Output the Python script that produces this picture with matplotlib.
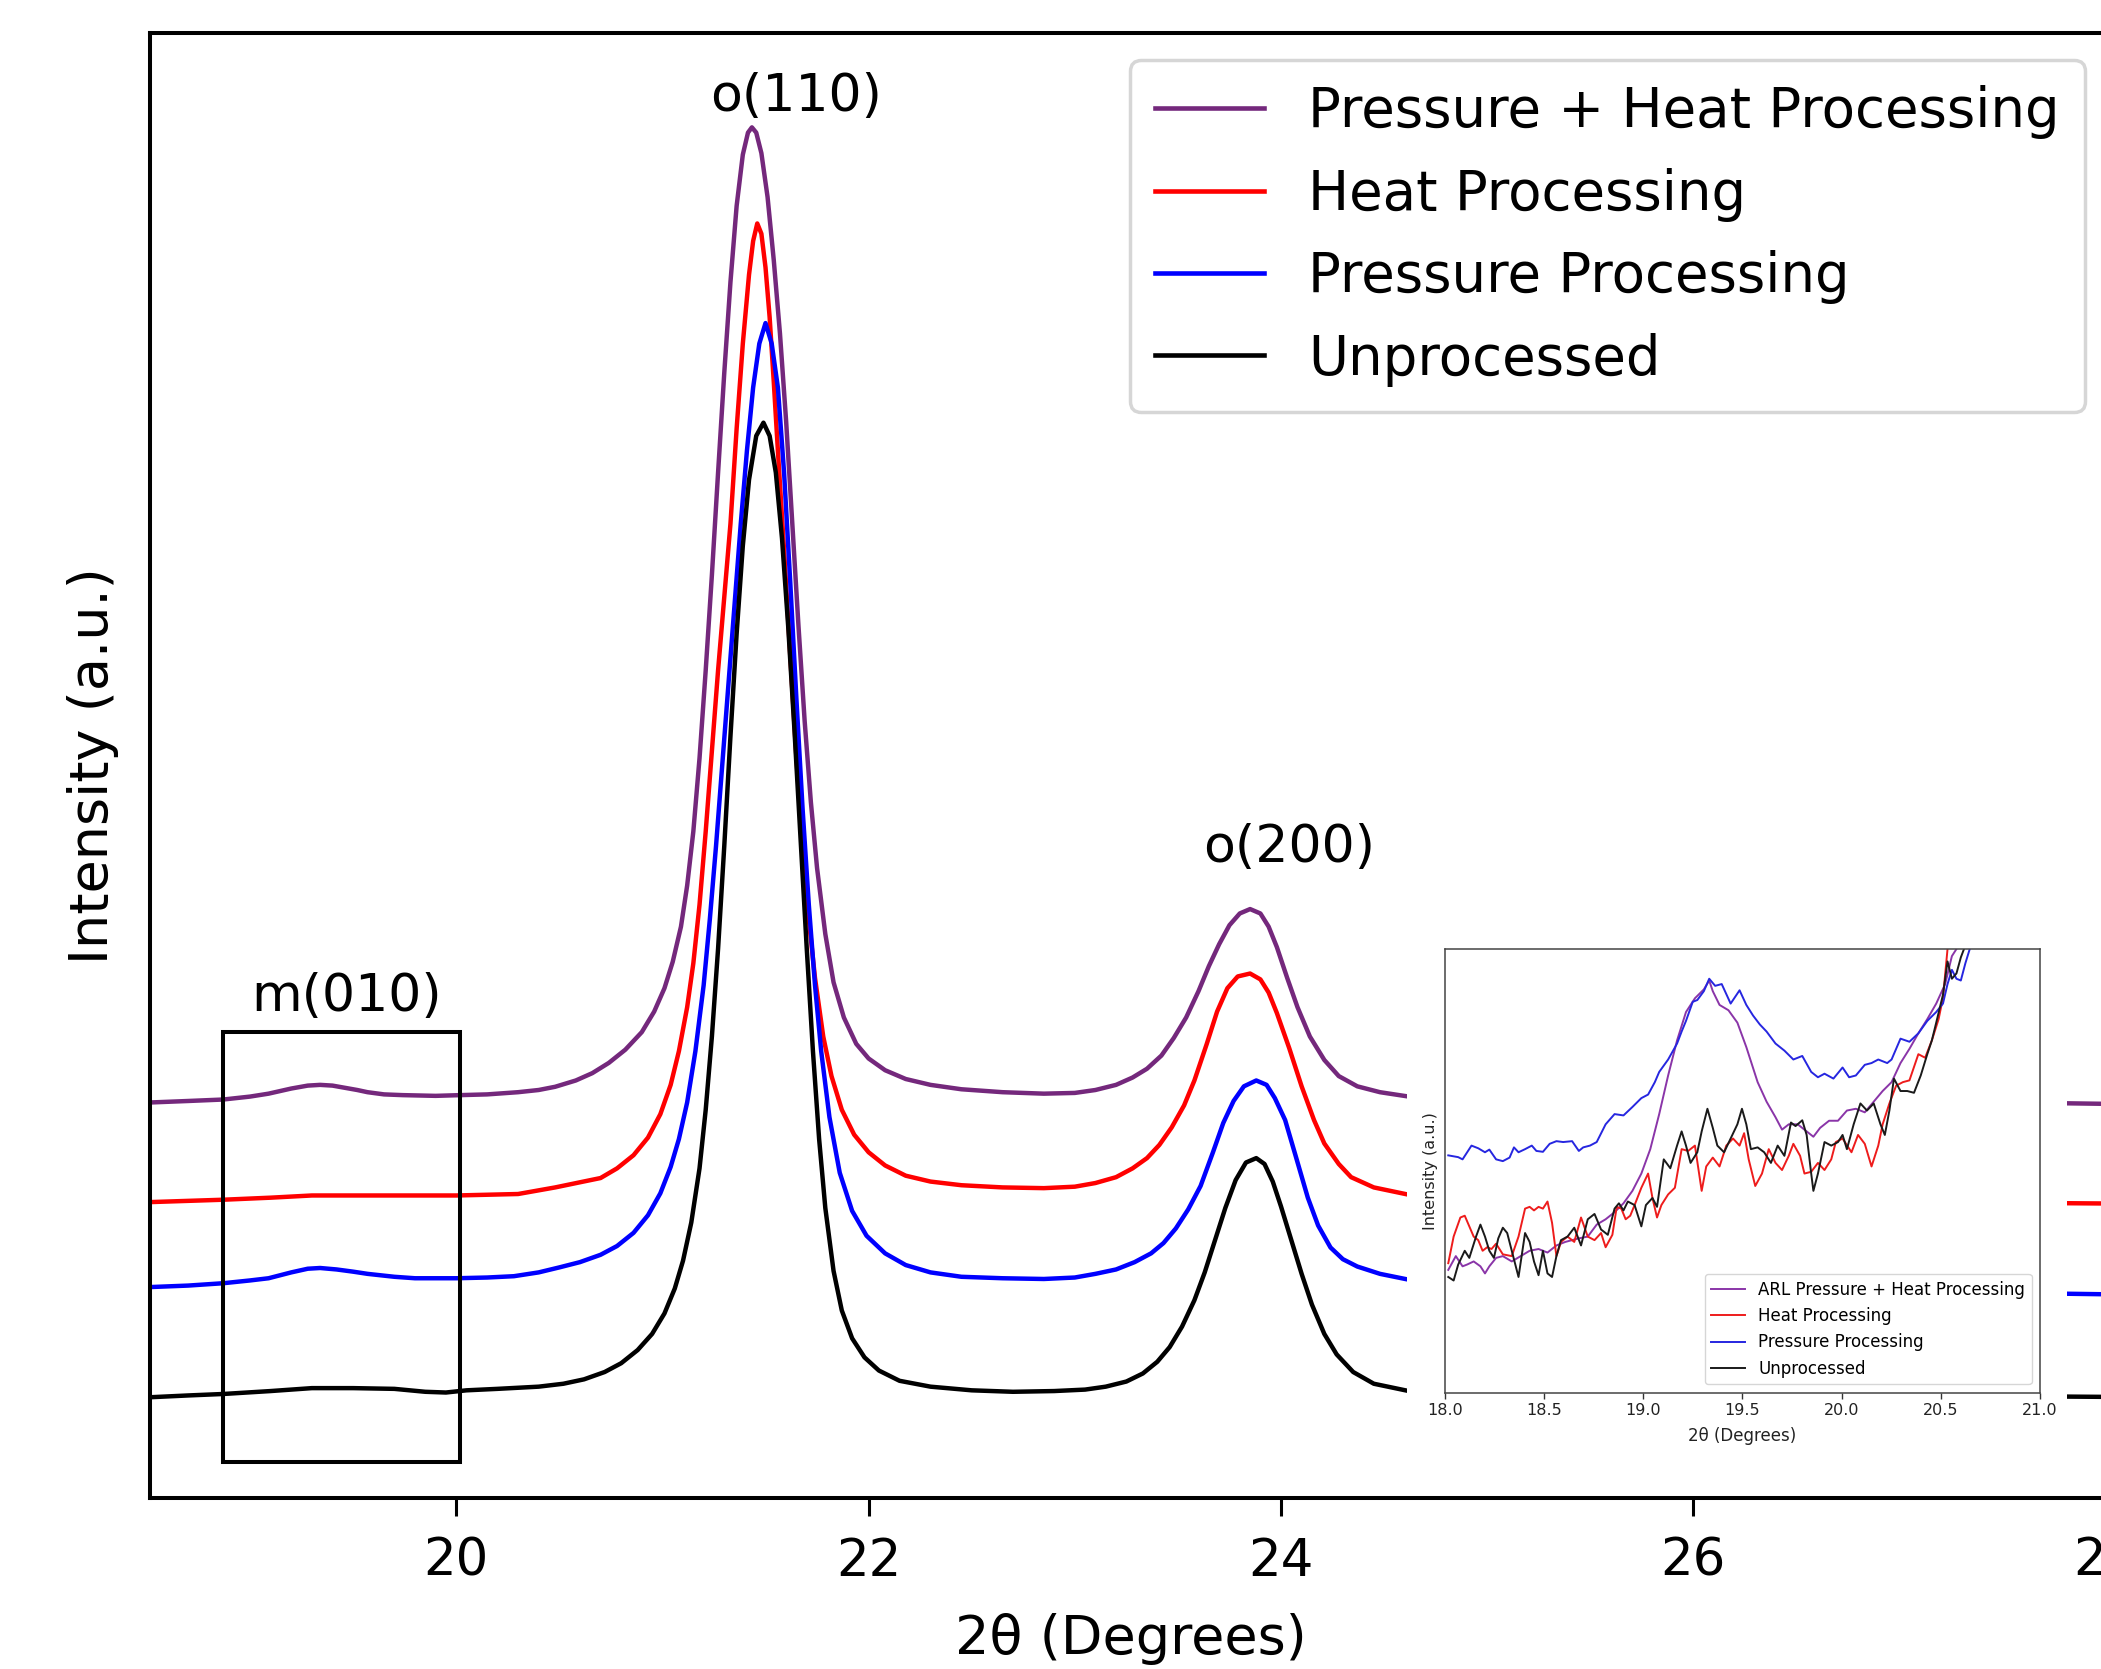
import matplotlib
matplotlib.use("Agg")
import matplotlib.pyplot as plt
from matplotlib.patches import Rectangle

# ---------------- main panel data (2theta in degrees, intensity a.u.) ----------------
ph_x = [18.52, 18.7, 18.87, 19.0, 19.09, 19.2, 19.28, 19.34, 19.40, 19.46, 19.52, 19.57, 19.65,
        19.74, 19.9, 20.02, 20.15, 20.30, 20.40, 20.48, 20.58, 20.66, 20.74, 20.82, 20.90, 20.96,
        21.01, 21.05, 21.09, 21.12, 21.15, 21.18, 21.21, 21.24, 21.27, 21.30, 21.33, 21.36, 21.39,
        21.415, 21.434, 21.455, 21.48, 21.51, 21.54, 21.57, 21.60, 21.63, 21.66, 21.69, 21.72,
        21.75, 21.79, 21.83, 21.88, 21.94, 22.0, 22.08, 22.18, 22.3, 22.45, 22.65, 22.85, 23.0,
        23.1, 23.2, 23.28, 23.35, 23.42, 23.48, 23.54, 23.60, 23.65, 23.70, 23.75, 23.80, 23.85,
        23.90, 23.94, 23.98, 24.03, 24.08, 24.14, 24.21, 24.28, 24.37, 24.48, 24.62, 25.5, 26.5,
        27.5, 28.03]
ph_y = [27.0, 27.1, 27.2, 27.4, 27.6, 27.95, 28.15, 28.2, 28.15, 28.0, 27.85, 27.7, 27.55,
        27.5, 27.45, 27.5, 27.55, 27.7, 27.85, 28.07, 28.5, 29.0, 29.7, 30.6, 31.8, 33.2,
        34.8, 36.6, 39.0, 41.8, 45.5, 50.5, 56.5, 63.0, 70.0, 76.8, 83.0, 88.2, 91.7,
        93.2, 93.56, 93.2, 91.8, 88.8, 84.5, 79.5, 73.5, 66.5, 59.5, 53.0, 47.5,
        43.0, 38.5, 35.2, 32.8, 31.0, 30.0, 29.2, 28.6, 28.2, 27.9, 27.7, 27.6, 27.65,
        27.85, 28.2, 28.7, 29.3, 30.2, 31.4, 32.8, 34.6, 36.3, 37.8, 39.1, 39.9, 40.2,
        39.9, 39.0, 37.6, 35.5, 33.5, 31.5, 29.9, 28.8, 28.1, 27.7, 27.4, 27.2, 27.0,
        27.0, 26.9]

h_x = [18.52, 18.87, 19.1, 19.3, 19.7, 20.0, 20.3, 20.48, 20.6, 20.70, 20.78, 20.86, 20.93,
       20.99, 21.04, 21.08, 21.12, 21.15, 21.18, 21.21, 21.24, 21.27, 21.30, 21.33, 21.36, 21.39,
       21.42, 21.44, 21.46, 21.48, 21.50, 21.52, 21.54, 21.56, 21.59, 21.62, 21.65, 21.68, 21.71,
       21.74, 21.78, 21.82, 21.87, 21.93, 22.0, 22.08, 22.18, 22.3, 22.45, 22.65, 22.85, 23.0,
       23.1, 23.2, 23.28, 23.35, 23.41, 23.47, 23.53, 23.58, 23.64, 23.69, 23.74, 23.79, 23.85,
       23.90, 23.94, 23.98, 24.04, 24.10, 24.16, 24.21, 24.28, 24.34, 24.45, 24.62, 25.5, 27.0,
       28.03]
h_y = [20.2, 20.36, 20.5, 20.65, 20.65, 20.65, 20.75, 21.2, 21.55, 21.84, 22.5, 23.4, 24.6,
       26.2, 28.2, 30.5, 33.5, 36.5, 40.5, 45.5, 51.0, 56.5, 61.5, 66.5, 73.0, 78.8,
       83.5, 85.8, 87.0, 86.3, 84.0, 80.6, 76.2, 71.5, 64.7, 57.5, 50.5, 44.5, 39.5,
       35.5, 31.5, 28.8, 26.5, 24.8, 23.6, 22.7, 22.0, 21.6, 21.35, 21.2, 21.15, 21.25,
       21.5, 21.9, 22.5, 23.2, 24.1, 25.3, 26.8, 28.5, 31.0, 33.2, 34.8, 35.6, 35.8,
       35.4, 34.5, 33.1, 30.7, 28.1, 25.8, 24.2, 22.8, 21.9, 21.2, 20.7, 20.4, 20.2,
       20.1]

p_x = [18.52, 18.7, 18.87, 19.0, 19.09, 19.2, 19.28, 19.34, 19.42, 19.50, 19.57, 19.7, 19.8,
       20.0, 20.15, 20.28, 20.4, 20.5, 20.60, 20.70, 20.78, 20.86, 20.93, 20.99, 21.04, 21.08,
       21.12, 21.16, 21.20, 21.23, 21.26, 21.29, 21.32, 21.35, 21.38, 21.41, 21.44, 21.47, 21.50,
       21.53, 21.56, 21.59, 21.62, 21.65, 21.68, 21.71, 21.74, 21.77, 21.81, 21.86, 21.92, 21.99,
       22.08, 22.18, 22.3, 22.45, 22.65, 22.85, 23.0, 23.1, 23.2, 23.29, 23.37, 23.43, 23.49,
       23.55, 23.61, 23.67, 23.72, 23.77, 23.82, 23.88, 23.93, 23.97, 24.02, 24.07, 24.13, 24.18,
       24.24, 24.30, 24.37, 24.48, 24.62, 25.5, 27.0, 28.03]
p_y = [14.4, 14.5, 14.66, 14.85, 15.0, 15.4, 15.65, 15.7, 15.6, 15.45, 15.3, 15.1, 15.0,
       15.0, 15.05, 15.14, 15.4, 15.74, 16.1, 16.6, 17.2, 18.1, 19.3, 20.8, 22.6, 24.5,
       27.0, 30.5, 35.0, 39.5, 44.5, 50.0, 55.5, 61.0, 66.5, 71.5, 75.8, 78.8, 80.2,
       78.8, 75.8, 70.0, 62.5, 54.5, 47.0, 40.5, 35.0, 30.5, 26.0, 22.2, 19.6, 17.9,
       16.7, 15.9, 15.4, 15.1, 15.0, 14.95, 15.05, 15.3, 15.6, 16.1, 16.7, 17.4, 18.4,
       19.7, 21.3, 23.6, 25.6, 27.1, 28.1, 28.5, 28.2, 27.3, 25.8, 23.4, 20.5, 18.6,
       17.1, 16.3, 15.8, 15.3, 14.9, 14.4, 14.1, 13.9]

u_x = [18.52, 18.7, 18.87, 19.1, 19.3, 19.5, 19.7, 19.85, 19.95, 20.05, 20.2, 20.4, 20.52,
       20.62, 20.72, 20.80, 20.88, 20.95, 21.01, 21.06, 21.10, 21.14, 21.18, 21.21, 21.24, 21.27,
       21.30, 21.33, 21.36, 21.39, 21.42, 21.455, 21.49, 21.52, 21.55, 21.58, 21.61, 21.64, 21.67,
       21.70, 21.73, 21.76, 21.79, 21.83, 21.87, 21.92, 21.98, 22.05, 22.15, 22.3, 22.5, 22.7,
       22.9, 23.05, 23.15, 23.25, 23.33, 23.40, 23.46, 23.52, 23.58, 23.63, 23.68, 23.73, 23.78,
       23.83, 23.88, 23.92, 23.96, 24.00, 24.05, 24.10, 24.15, 24.21, 24.27, 24.35, 24.45, 24.62,
       25.5, 27.0, 28.03]
u_y = [6.88, 7.0, 7.1, 7.3, 7.5, 7.5, 7.45, 7.25, 7.2, 7.35, 7.45, 7.6, 7.8,
       8.1, 8.6, 9.2, 10.1, 11.2, 12.6, 14.3, 16.2, 18.8, 22.5, 26.5, 31.5, 37.5,
       44.5, 52.0, 59.0, 65.0, 69.5, 72.5, 73.4, 72.5, 70.0, 65.5, 59.5, 52.5, 45.0,
       37.5, 30.5, 24.5, 19.8, 15.5, 12.8, 10.9, 9.6, 8.7, 8.0, 7.6, 7.35, 7.25,
       7.3, 7.4, 7.6, 7.95, 8.5, 9.3, 10.3, 11.7, 13.5, 15.4, 17.6, 19.8, 21.7,
       22.9, 23.2, 22.8, 21.6, 19.9, 17.6, 15.3, 13.2, 11.2, 9.8, 8.6, 7.8, 7.3,
       7.1, 7.0, 6.9]

main_labels = ["Pressure + Heat Processing", "Heat Processing", "Pressure Processing", "Unprocessed"]
main_colors = ["#74287c", "red", "blue", "black"]

peak_labels = ["m(010)", "o(110)", "o(200)"]
peak_label_x = [19.47, 21.65, 24.04]
peak_label_y = [34.2, 95.6, 44.4]

box_x = [18.867, 20.02]
box_y = [2.47, 31.78]

main_xticks = [20, 22, 24, 26, 28]

# ---------------- inset data (18-21 degrees) ----------------
i_p_x = [18.018, 18.068, 18.09, 18.135, 18.169, 18.203, 18.225, 18.259, 18.293, 18.327, 18.349,
         18.372, 18.405, 18.439, 18.462, 18.495, 18.529, 18.563, 18.597, 18.642, 18.676, 18.698,
         18.732, 18.766, 18.811, 18.856, 18.901, 18.946, 18.991, 19.025, 19.059, 19.081, 19.126,
         19.171, 19.194, 19.216, 19.25, 19.273, 19.306, 19.333, 19.363, 19.396, 19.441, 19.486,
         19.52, 19.554, 19.588, 19.622, 19.667, 19.712, 19.757, 19.802, 19.847, 19.881, 19.914,
         19.959, 20.005, 20.038, 20.072, 20.117, 20.151, 20.185, 20.23, 20.252, 20.297, 20.342,
         20.387, 20.432, 20.477, 20.511, 20.534, 20.556, 20.579, 20.601, 20.624, 20.646, 20.66]
i_p_y = [53.5, 53.1, 52.6, 55.7, 55.1, 54.2, 54.8, 52.6, 52.2, 53.0, 55.3,
         54.2, 54.9, 55.7, 54.5, 54.3, 56.1, 56.7, 56.5, 56.7, 54.5, 55.3,
         55.7, 56.5, 60.5, 62.8, 62.5, 64.4, 66.4, 67.2, 70.0, 72.3, 75.1,
         78.7, 81.4, 83.8, 88.1, 88.5, 90.5, 93.3, 91.7, 92.1, 87.7, 90.7,
         87.4, 85.0, 83.0, 81.4, 78.7, 77.1, 75.1, 75.9, 72.3, 71.1, 71.9,
         70.8, 73.3, 71.1, 71.5, 73.9, 74.3, 75.1, 74.3, 75.1, 79.8, 79.1,
         81.0, 83.8, 85.8, 87.7, 92.1, 95.3, 93.3, 92.9, 96.8, 100.0, 103.0]

i_ph_x = [18.018, 18.056, 18.09, 18.113, 18.146, 18.18, 18.203, 18.225, 18.259, 18.293, 18.338,
          18.383, 18.428, 18.473, 18.518, 18.563, 18.608, 18.676, 18.721, 18.766, 18.811, 18.856,
          18.901, 18.946, 18.991, 19.036, 19.081, 19.126, 19.171, 19.216, 19.261, 19.306, 19.333,
          19.351, 19.385, 19.43, 19.475, 19.52, 19.577, 19.622, 19.667, 19.70, 19.734, 19.779,
          19.824, 19.858, 19.892, 19.937, 19.982, 20.027, 20.072, 20.117, 20.162, 20.207, 20.252,
          20.297, 20.342, 20.387, 20.432, 20.477, 20.522, 20.556, 20.579, 20.585]
i_ph_y = [27.7, 30.8, 28.5, 28.9, 29.6, 28.5, 26.9, 28.5, 30.4, 30.8, 29.6,
          30.8, 32.0, 32.4, 31.6, 33.2, 34.0, 34.8, 35.2, 37.9, 39.1, 40.7,
          42.7, 45.5, 49.4, 54.9, 62.8, 71.5, 79.4, 85.8, 88.9, 90.9, 92.9,
          90.5, 87.4, 86.2, 83.4, 77.9, 70.0, 65.6, 62.1, 59.3, 60.5, 60.5,
          58.9, 57.7, 59.7, 61.3, 61.3, 63.6, 64.0, 63.2, 65.6, 68.0, 70.0,
          74.3, 77.5, 81.0, 84.2, 87.7, 92.1, 98.4, 100.0, 103.0]

i_h_x = [18.018, 18.045, 18.079, 18.101, 18.124, 18.146, 18.169, 18.191, 18.214, 18.236, 18.259,
         18.293, 18.338, 18.372, 18.405, 18.428, 18.45, 18.473, 18.495, 18.518, 18.541, 18.563,
         18.586, 18.619, 18.653, 18.687, 18.721, 18.755, 18.788, 18.811, 18.845, 18.867, 18.89,
         18.912, 18.935, 18.957, 18.991, 19.025, 19.047, 19.07, 19.092, 19.126, 19.16, 19.194,
         19.227, 19.261, 19.295, 19.318, 19.351, 19.385, 19.419, 19.453, 19.486, 19.509, 19.532,
         19.565, 19.599, 19.633, 19.667, 19.70, 19.734, 19.757, 19.791, 19.813, 19.847, 19.881,
         19.914, 19.948, 19.971, 20.005, 20.05, 20.083, 20.117, 20.151, 20.185, 20.207, 20.241,
         20.275, 20.309, 20.342, 20.387, 20.421, 20.455, 20.489, 20.511, 20.534, 20.537]
i_h_y = [29.2, 35.2, 39.5, 39.9, 37.5, 35.2, 34.4, 32.0, 32.8, 32.4, 33.6,
         31.2, 30.8, 35.2, 41.5, 41.9, 41.1, 41.9, 41.5, 43.1, 38.3, 30.8,
         34.0, 35.2, 34.0, 39.5, 35.2, 34.4, 36.0, 32.8, 35.6, 41.9, 41.5,
         39.1, 39.9, 42.3, 46.2, 49.4, 43.9, 39.5, 42.3, 44.7, 46.2, 54.9,
         54.5, 55.7, 45.5, 51.0, 53.0, 51.0, 55.7, 57.3, 55.7, 58.5, 52.6,
         46.6, 49.4, 54.9, 51.8, 50.2, 53.4, 56.1, 53.4, 49.4, 49.8, 51.8,
         50.2, 52.6, 56.5, 57.3, 54.2, 58.1, 56.1, 51.0, 55.7, 60.5, 65.2,
         69.2, 70.0, 70.4, 76.3, 75.5, 79.4, 84.2, 89.0, 100.0, 103.0]

i_u_x = [18.018, 18.045, 18.068, 18.101, 18.124, 18.158, 18.18, 18.203, 18.225, 18.248, 18.27,
         18.293, 18.315, 18.338, 18.372, 18.405, 18.428, 18.45, 18.473, 18.495, 18.518, 18.541,
         18.563, 18.586, 18.619, 18.653, 18.687, 18.721, 18.755, 18.788, 18.822, 18.856, 18.878,
         18.901, 18.923, 18.957, 18.991, 19.014, 19.047, 19.07, 19.104, 19.137, 19.171, 19.194,
         19.216, 19.239, 19.273, 19.295, 19.324, 19.351, 19.374, 19.408, 19.441, 19.475, 19.498,
         19.52, 19.543, 19.577, 19.61, 19.644, 19.678, 19.712, 19.745, 19.768, 19.802, 19.824,
         19.847, 19.858, 19.881, 19.914, 19.948, 19.982, 20.005, 20.027, 20.061, 20.095, 20.128,
         20.162, 20.196, 20.218, 20.241, 20.264, 20.297, 20.331, 20.365, 20.399, 20.432, 20.455,
         20.477, 20.511, 20.534, 20.556, 20.579, 20.601, 20.617, 20.62]
i_u_y = [26.1, 25.3, 28.9, 32.0, 30.4, 35.2, 37.9, 35.2, 32.0, 30.4, 34.8,
         37.2, 36.0, 32.0, 26.1, 36.0, 34.0, 29.6, 26.5, 32.0, 26.9, 26.1,
         30.8, 34.4, 35.2, 37.2, 33.2, 39.1, 40.3, 36.8, 35.6, 41.5, 42.7,
         41.1, 43.1, 42.3, 37.5, 42.3, 43.9, 41.9, 52.6, 50.6, 55.7, 58.9,
         55.7, 51.8, 54.2, 58.9, 64.0, 59.7, 55.7, 54.2, 57.3, 60.5, 64.0,
         60.5, 54.9, 55.3, 54.2, 51.8, 55.7, 53.4, 60.9, 60.1, 61.4, 58.1,
         49.4, 45.5, 49.4, 56.5, 55.7, 56.5, 58.1, 54.9, 60.5, 65.2, 63.6,
         65.2, 60.5, 58.1, 63.6, 70.8, 68.0, 68.0, 67.6, 71.5, 76.3, 79.4,
         83.4, 89.7, 97.2, 93.3, 94.5, 98.1, 100.0, 103.0]

inset_labels = ["ARL Pressure + Heat Processing", "Heat Processing", "Pressure Processing", "Unprocessed"]
inset_colors = ["#8a35a8", "#ee1c1c", "#2626e0", "#1a1a1a"]
inset_xticks = [18.0, 18.5, 19.0, 19.5, 20.0, 20.5, 21.0]

# ---------------- figure ----------------
W, H = 2101, 1669
fig = plt.figure(figsize=(W / 100, H / 100), dpi=100)

ax = fig.add_axes([150 / W, 1 - 1498 / H, (2112 - 150) / W, (1498 - 33) / H], zorder=0)
series = [(ph_x, ph_y), (h_x, h_y), (p_x, p_y), (u_x, u_y)]
for (xs, ys), lab, col in zip(series, main_labels, main_colors):
    ax.plot(xs, ys, color=col, lw=3.2, label=lab, solid_joinstyle="round")

ax.set_xlim(18.515, 28.03)
ax.set_ylim(0, 100)
ax.set_yticks([])
ax.set_xticks(main_xticks)
ax.tick_params(axis="x", labelsize=37, length=13, width=2.2, pad=15)
for s in ax.spines.values():
    s.set_linewidth(2.9)
ax.set_xlabel("2θ (Degrees)", fontsize=39, labelpad=19)
ax.set_ylabel("Intensity (a.u.)", fontsize=39, labelpad=22)

ax.add_patch(Rectangle((box_x[0], box_y[0]), box_x[1] - box_x[0], box_y[1] - box_y[0],
                       fill=False, edgecolor="black", lw=2.9, zorder=4))
for t, tx, ty in zip(peak_labels, peak_label_x, peak_label_y):
    ax.text(tx, ty, t, ha="center", va="center", fontsize=37.5)

leg = ax.legend(loc="upper right", fontsize=39.3, handlelength=2.0,
                borderpad=0.46, labelspacing=0.52)
leg.get_frame().set_linewidth(2.5)
for lh in leg.get_lines():
    lh.set_linewidth(3.3)

# white backing of the pasted inset
fig.add_artist(Rectangle((1407 / W, 1 - 1458 / H), (2067 - 1407) / W, (1458 - 928) / H,
                         transform=fig.transFigure, facecolor="white", edgecolor="none", zorder=1))

axi = fig.add_axes([1444.7 / W, 1 - 1392.8 / H, (2040 - 1444.7) / W, (1392.8 - 949) / H], zorder=2)
iseries = [(i_ph_x, i_ph_y), (i_h_x, i_h_y), (i_p_x, i_p_y), (i_u_x, i_u_y)]
for (xs, ys), lab, col in zip(iseries, inset_labels, inset_colors):
    axi.plot(xs, ys, color=col, lw=1.4, label=lab)
axi.set_xlim(18.0, 21.0)
axi.set_ylim(0, 100)
axi.set_yticks([])
axi.set_xticks(inset_xticks)
axi.set_xticklabels([f"{v:.1f}" for v in inset_xticks])
axi.tick_params(axis="x", labelsize=11.5, length=4, width=1.0, pad=3, colors="#333333", labelcolor="#222222")
for s in axi.spines.values():
    s.set_linewidth(1.1)
    s.set_color("#444444")
axi.set_xlabel("2θ (Degrees)", fontsize=12, labelpad=7, color="#222222")
axi.set_ylabel("Intensity (a.u.)", fontsize=11.5, labelpad=5, color="#222222")
axi.legend(loc="lower right", fontsize=12, handlelength=2.0)

fig.savefig("out.png", dpi=100)
